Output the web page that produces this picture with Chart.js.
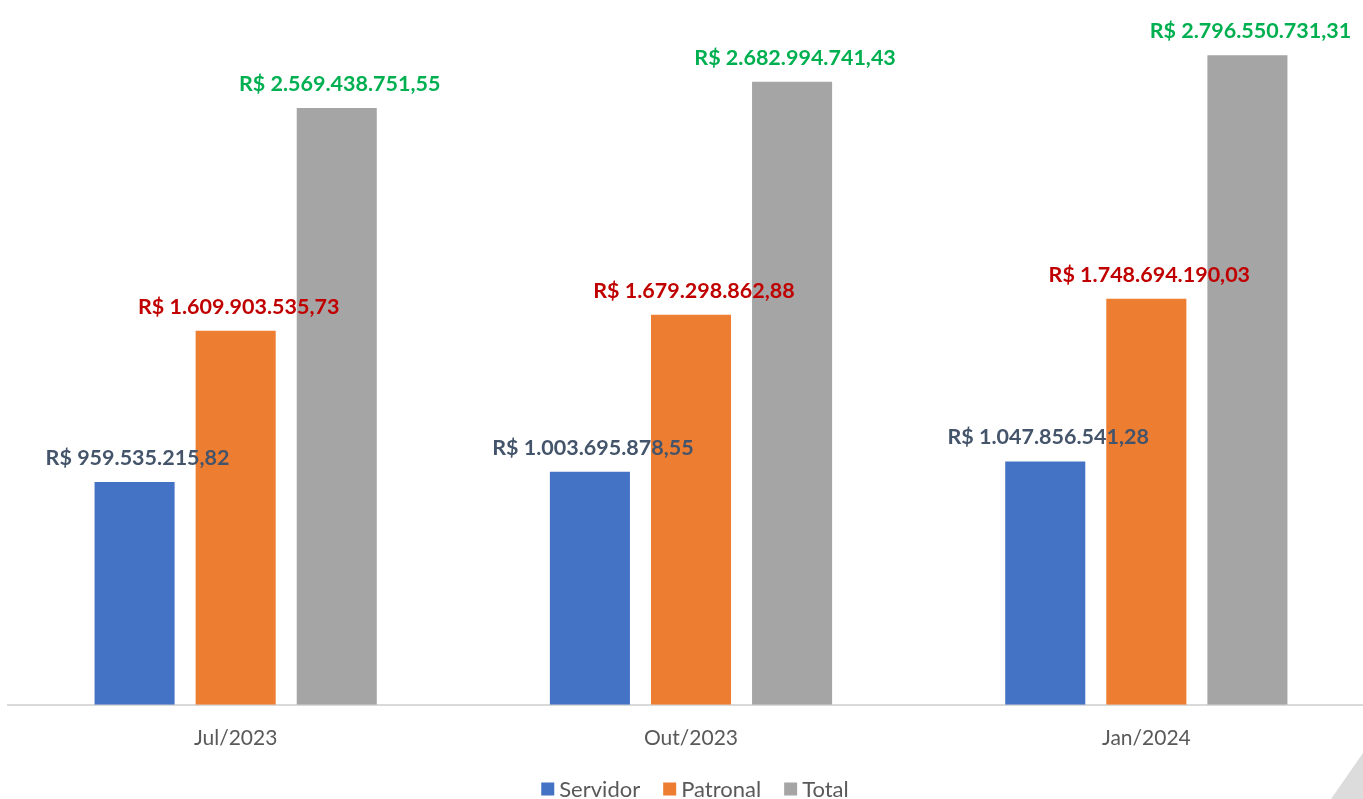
<!DOCTYPE html>
<html>
<head>
<meta charset="utf-8">
<script src="https://cdn.jsdelivr.net/npm/chart.js@4"></script>
<style>
  html, body { margin: 0; padding: 0; background: #fff; overflow: hidden; }
  #wrap { position: relative; width: 1375px; height: 799px; }
  #corner {
    position: absolute; left: 1331px; top: 753px; width: 32px; height: 46px;
    background: #dcdcdc; clip-path: polygon(100% 0, 100% 100%, 0 100%);
  }
</style>
</head>
<body>
<div id="wrap">
  <canvas id="mycanvas" width="1375" height="799"></canvas>
  <div id="corner"></div>
</div>
<script>
// periodos e valores (R$)
var periodos = ["Jul/2023", "Out/2023", "Jan/2024"];
var servidor = [959535215.82, 1003695878.55, 1047856541.28];
var patronal = [1609903535.73, 1679298862.88, 1748694190.03];
var total    = [2569438751.55, 2682994741.43, 2796550731.31];

function brl(v){
    var parts = v.toFixed(2).split(".");
    var inteiro = parts[0].replace(/\B(?=(\d{3})+(?!\d))/g, ".");
    return "R$ " + inteiro + "," + parts[1];
}

var FONT = "Lato, 'Open Sans', sans-serif";

// rotulos acima das barras
var rotulos = {
    id: 'rotulos',
    afterDatasetsDraw: function(chart){
        var ctx = chart.ctx;
        ctx.save();
        ctx.font = "bold 21.5px " + FONT;
        ctx.textAlign = "center";
        ctx.textBaseline = "alphabetic";
        chart.data.datasets.forEach(function(ds, i){
            var meta = chart.getDatasetMeta(i);
            meta.data.forEach(function(bar, j){
                ctx.fillStyle = ds.labelColor;
                ctx.fillText(brl(ds.data[j]), bar.x + 3, bar.y - 17);
            });
        });
        ctx.restore();
    }
};

// legenda embaixo (desenhada a mao p/ ficar igual ao excel)
var legenda = {
    id: 'legenda',
    afterDraw: function(chart){
        var ctx = chart.ctx;
        var box = 13, gap = 5, space = 23, cy = 789;
        ctx.save();
        ctx.font = "22px " + FONT;
        ctx.textBaseline = "middle";
        var itens = chart.data.datasets;
        var larg = 0;
        itens.forEach(function(ds, i){
            larg += box + gap + ctx.measureText(ds.label).width;
            if (i < itens.length - 1) larg += space;
        });
        var x = 695 - larg / 2;
        itens.forEach(function(ds){
            ctx.fillStyle = ds.backgroundColor;
            ctx.fillRect(x, cy - box / 2, box, box);
            x += box + gap;
            ctx.fillStyle = "#595959";
            ctx.fillText(ds.label, x, cy + 1);
            x += ctx.measureText(ds.label).width + space;
        });
        ctx.restore();
    }
};

var ctx = document.getElementById("mycanvas").getContext('2d');
var chart = new Chart(ctx, {
    type: 'bar',
    data: {
        labels: periodos,
        datasets: [
            { label: "Servidor", data: servidor, backgroundColor: "#4472C4", labelColor: "#44546A" },
            { label: "Patronal", data: patronal, backgroundColor: "#ED7D31", labelColor: "#C00000" },
            { label: "Total",    data: total,    backgroundColor: "#A5A5A5", labelColor: "#00B050" }
        ]
    },
    options: {
        responsive: false,
        animation: false,
        categoryPercentage: 0.666,
        barPercentage: 0.792,
        layout: { padding: { left: 8, right: 1, top: 8, bottom: 27 } },
        plugins: {
            legend: { display: false },
            tooltip: { enabled: false }
        },
        scales: {
            x: {
                grid: { display: false, drawTicks: false },
                border: { color: "#D9D9D9", width: 2 },
                ticks: { color: "#595959", font: { family: FONT, size: 21 }, padding: 21 }
            },
            y: {
                display: false,
                min: 0,
                max: 3000000000
            }
        }
    },
    plugins: [rotulos, legenda]
});
</script>
</body>
</html>
